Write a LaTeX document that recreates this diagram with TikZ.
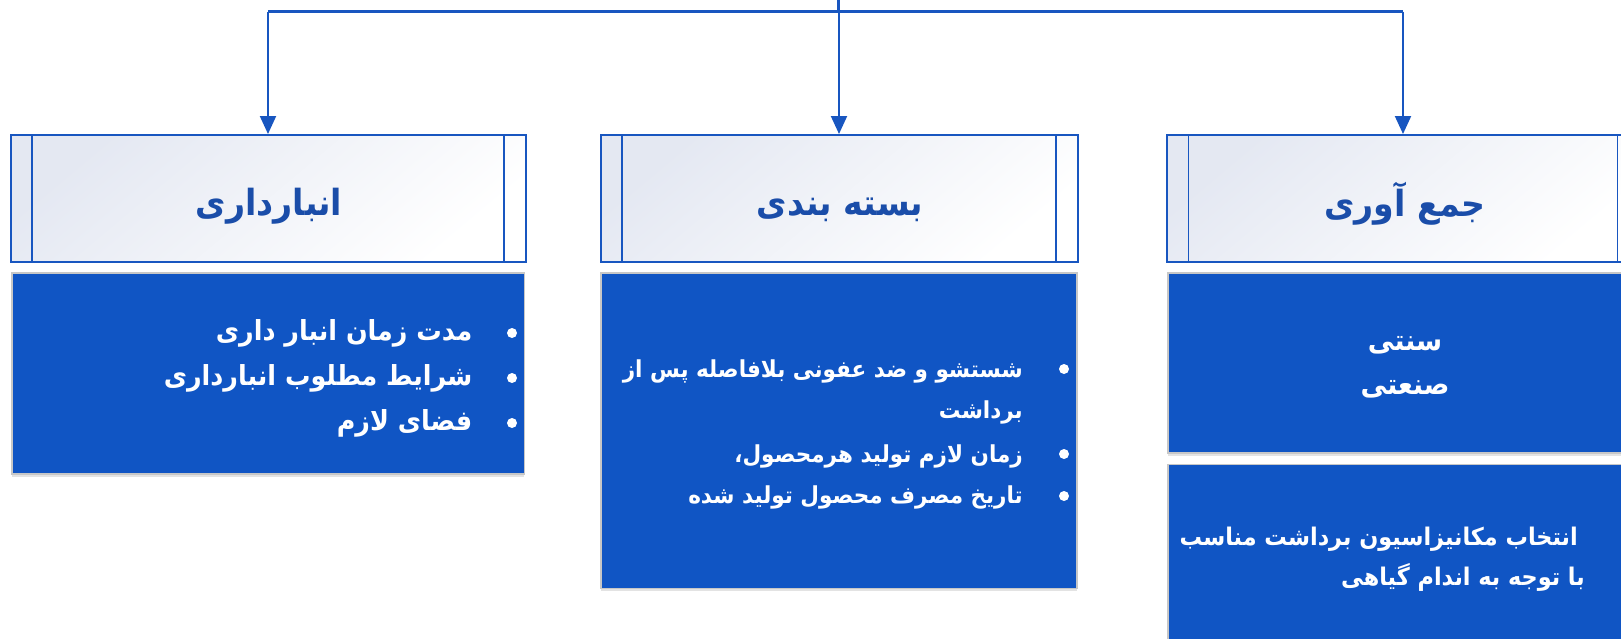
\documentclass[tikz,border=0pt]{standalone}
\usepackage{fontspec}
\TeXXeTstate=1
\newfontfamily\arfont[Script=Arabic,FakeStretch=0.92]{DejaVu Sans}
\usetikzlibrary{arrows.meta,shadows}
\definecolor{linkblue}{HTML}{1856C0}
\definecolor{hdrtext}{HTML}{1A4DA9}
\definecolor{boxblue}{HTML}{1055C4}
\definecolor{hdrtint}{HTML}{E4E8F2}
\begin{document}
\begin{tikzpicture}[x=1pt,y=-1pt,
  hdr/.style={draw=linkblue, line width=2pt, inner sep=0pt, anchor=north west,
    top color=hdrtint, bottom color=white, shading angle=40},
  hdrline/.style={draw=linkblue, line width=1.5pt},
  hdrtext/.style={font=\arfont\bfseries\fontsize{36}{36}\selectfont, text=hdrtext, inner sep=0pt, anchor=base},
  bluebox/.style={fill=boxblue, draw=black!22, line width=1.8pt, inner sep=0pt, anchor=north west,
    drop shadow={shadow xshift=0pt, shadow yshift=-3pt, opacity=0.18, fill=black!60}},
  bodytext/.style={font=\arfont\bfseries\fontsize{#1}{#1}\selectfont, text=white, inner sep=0pt},
  bodytext/.default=24,
  bullet/.style={circle, fill=white, inner sep=0pt, minimum size=10pt},
  busline/.style={draw=linkblue, line width=3pt},
  link/.style={draw=linkblue, line width=2pt, -{Triangle[width=16pt,length=18pt]}}]
\useasboundingbox (0,0) rectangle (1621,638);
\clip (0,0) rectangle (1621,638);

% header boxes
\node[hdr, minimum width=515pt, minimum height=126.5pt] (h1) at (9.5,134) {};
\node[hdr, minimum width=477pt, minimum height=126.5pt] (h2) at (599.5,134) {};
\node[hdr, minimum width=472pt, minimum height=126.5pt] (h3) at (1166,134) {};
\foreach \h in {h1,h2,h3}{
  \draw[hdrline] ([xshift=22.5pt]\h.north west) -- ([xshift=22.5pt]\h.south west);
  \draw[hdrline] ([xshift=-22.5pt]\h.north east) -- ([xshift=-22.5pt]\h.south east);
}
\node[hdrtext] (h1t) at (269,215) {\beginR انبارداری\endR};
\node[hdrtext] (h2t) at (840,215) {\beginR بسته بندی\endR};
\node[hdrtext] (h3t) at (1405,216) {\beginR جمع آوری\endR};

% connectors
\coordinate (root) at (838,0);
\coordinate (bus) at (838,11.5);
\draw[busline] (root) -- (bus);
\draw[busline] (h1.north |- bus) -- (h3.north |- bus);
\foreach \h in {h1,h2,h3}
  \draw[link] (\h.north |- bus) -- (\h.north);

% content boxes
\node[bluebox, minimum width=512.5pt, minimum height=201pt] (b1) at (11,272) {};
\node[bluebox, minimum width=476pt, minimum height=315.5pt] (b2) at (600,272) {};
\node[bluebox, minimum width=480pt, minimum height=180pt] (b3) at (1167,272) {};
\node[bluebox, minimum width=480pt, minimum height=200pt] (b4) at (1167,463.5) {};

% storage list
\node[bullet] (b1d1) at (512,333) {};
\node[bullet] (b1d2) at (512,378) {};
\node[bullet] (b1d3) at (512,423) {};
\node[bodytext=27.6, anchor=base east] (b1l1) at (472.5,340) {\beginR مدت زمان انبار داری\endR};
\node[bodytext=27.6, anchor=base east] (b1l2) at (472.5,385) {\beginR شرایط مطلوب انبارداری\endR};
\node[bodytext=27.6, anchor=base east] (b1l3) at (472.5,430) {\beginR فضای لازم\endR};

% packaging list
\node[bullet] (b2d1) at (1064,369) {};
\node[bullet] (b2d2) at (1064,454) {};
\node[bullet] (b2d3) at (1064,496) {};
\node[bodytext=23.4, anchor=base east] (b2l1) at (1023,377) {\beginR شستشو و ضد عفونی بلافاصله پس از\endR};
\node[bodytext=23.4, anchor=base east] (b2l2) at (1023,418) {\beginR برداشت\endR};
\node[bodytext=23.4, anchor=base east] (b2l3) at (1023,462) {\beginR زمان لازم تولید هرمحصول،\endR};
\node[bodytext=23.4, anchor=base east] (b2l4) at (1023,503) {\beginR تاریخ مصرف محصول تولید شده\endR};

% harvesting methods
\node[bodytext=28.8, anchor=base] (b3l1) at (1405,350) {\beginR سنتی\endR};
\node[bodytext=28.8, anchor=base] (b3l2) at (1405,394) {\beginR صنعتی\endR};
\node[bodytext=24.3, anchor=base east] (b4l1) at (1578,545) {\beginR انتخاب مکانیزاسیون برداشت مناسب\endR};
\node[bodytext=24.3, anchor=base east] (b4l2) at (1585,585) {\beginR با توجه به اندام گیاهی\endR};
\end{tikzpicture}
\end{document}
